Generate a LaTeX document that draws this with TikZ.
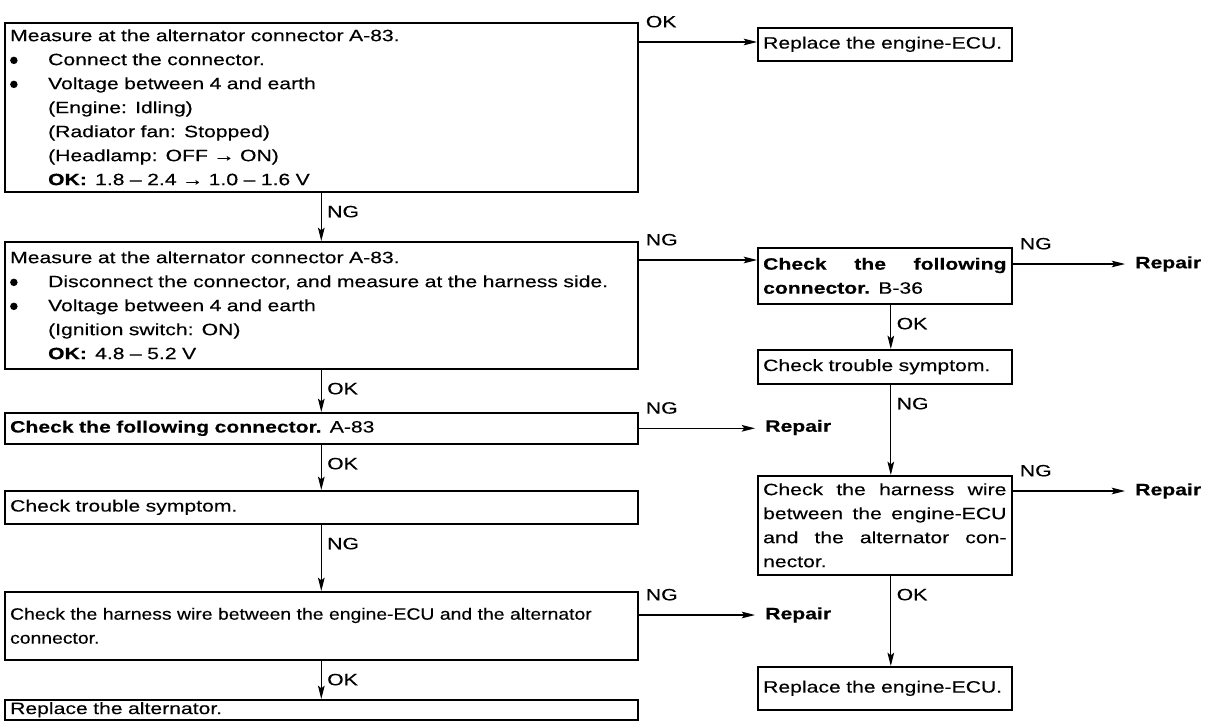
\documentclass[tikz,border=0pt]{standalone}
\usepackage{fontspec}
\setmainfont{Liberation Sans}[FakeStretch=1.29, FakeBold=0.3]
\newfontfamily\narrowfont{Liberation Sans}[FakeStretch=1.18, FakeBold=0.3]
\usetikzlibrary{arrows.meta,calc}

\newcommand{\mainsize}{\fontsize{12.3}{18}\selectfont}
\newcommand{\bul}{\makebox[28.5pt][l]{\tikz[baseline=-3.6pt]\fill (0,0) circle (2.8pt);}}
\newcommand{\ind}{\hspace*{28.5pt}}
\newcommand{\jline}[1]{{\spaceskip=.3333em plus 3em\xspaceskip=0pt\makebox[\hsize][s]{#1}}}

\tikzset{
  box/.style={draw, line width=1.2pt, anchor=north west, align=left,
    inner xsep=4pt, inner ysep=0pt, font=\mainsize},
  lbox/.style={box, text width=466.75pt},
  rbox/.style={box, text width=182.5pt},
  rep/.style={font=\mainsize\bfseries, anchor=west, inner xsep=7.5pt, inner ysep=0pt},
  hlbl/.style={font=\mainsize, inner sep=0pt, anchor=base west, xshift=5pt, yshift=11pt},
  vlbl/.style={font=\mainsize, inner sep=0pt, anchor=base west, xshift=4pt, yshift=-18.5pt},
  arr/.style={-{Stealth[length=10pt,width=5pt,inset=2pt]}, line width=0.9pt},
}

\begin{document}
\begin{tikzpicture}[x=0.75pt, y=-0.75pt]

  \useasboundingbox (0,0) rectangle (1217,721);

  % --- left column ---
  \node[lbox, minimum height=126.75pt] (meas1) at (4,22) {Measure at the alternator connector A-83.\\
    \bul Connect the connector.\\
    \bul Voltage between 4 and earth\\
    \ind (Engine: Idling)\\
    \ind (Radiator fan: Stopped)\\
    \ind (Headlamp: OFF → ON)\\
    \ind\textbf{OK:}\enspace 1.8 -- 2.4 → 1.0 -- 1.6 V};

  \node[lbox, minimum height=95.25pt] (meas2) at (4,241) {Measure at the alternator connector A-83.\\
    \bul Disconnect the connector, and measure at the harness side.\\
    \bul Voltage between 4 and earth\\
    \ind (Ignition switch: ON)\\
    \ind\textbf{OK:}\enspace 4.8 -- 5.2 V};

  \node[lbox, minimum height=23.25pt] (conA) at (4,412) {\textbf{Check the following connector.} A-83};
  \node[lbox, minimum height=24.75pt] (sym1) at (4,490) {Check trouble symptom.};
  \node[lbox, minimum height=51pt] (harn1) at (4,591) {\narrowfont Check the harness wire between the engine-ECU and the alternator\\connector.};
  \node[lbox, minimum height=15pt] (repalt) at (4,699) {Replace the alternator.};

  % --- right column ---
  \node[rbox, minimum height=24.75pt] (repecu1) at (757,27) {Replace the engine-ECU.};
  \node[rbox, minimum height=42pt] (conB) at (757,247) {\jline{\textbf{Check the following}}\\\textbf{connector.} B-36};
  \node[rbox, minimum height=25.5pt] (sym2) at (757,349) {Check trouble symptom.};
  \node[rbox, minimum height=74.25pt] (harn2) at (757,475) {\jline{Check the harness wire}\\
    \jline{between the engine-ECU}\\
    \jline{and the alternator con-}\\
    nector.};
  \node[rbox, minimum height=32.25pt] (repecu2) at (757,666) {Replace the engine-ECU.};

  % --- repair ends ---
  \node[rep] (rep1) at (1125,264) {Repair};
  \node[rep] (rep2) at (755,427.5) {Repair};
  \node[rep] (rep3) at (1125,491) {Repair};
  \node[rep] (rep4) at (755,615) {Repair};

  % --- horizontal connectors ---
  \coordinate (o1) at ($(meas1.north east)+(0,20)$);
  \coordinate (n2) at ($(meas2.north east)+(0,19)$);
  \coordinate (n3) at ($(conB.north east)+(0,17)$);
  \coordinate (n4) at ($(harn2.north east)+(0,16)$);
  \coordinate (n5) at ($(harn1.north east)+(0,24)$);

  \draw[arr] (o1) node[hlbl] {OK} -- (o1 -| repecu1.west);
  \draw[arr] (n2) node[hlbl] {NG} -- (n2 -| conB.west);
  \draw[arr] (n3) node[hlbl] {NG} -- (n3 -| rep1.west);
  \draw[arr] (conA.east) node[hlbl] {NG} -- (conA.east -| rep2.west);
  \draw[arr] (n4) node[hlbl] {NG} -- (n4 -| rep3.west);
  \draw[arr] (n5) node[hlbl] {NG} -- (n5 -| rep4.west);

  % --- vertical connectors ---
  \draw[arr] (meas1.south) node[vlbl] {NG} -- (meas2.north);
  \draw[arr] (meas2.south) node[vlbl] {OK} -- (conA.north);
  \draw[arr] (conA.south) node[vlbl] {OK} -- (sym1.north);
  \draw[arr] (sym1.south) node[vlbl] {NG} -- (harn1.north);
  \draw[arr] (harn1.south) node[vlbl] {OK} -- (repalt.north);

  \draw[arr] ([xshift=4.5pt]conB.south) node[vlbl] {OK} -- ([xshift=4.5pt]sym2.north);
  \draw[arr] ([xshift=4.5pt]sym2.south) node[vlbl] {NG} -- ([xshift=4.5pt]harn2.north);
  \draw[arr] ([xshift=4.5pt]harn2.south) node[vlbl] {OK} -- ([xshift=4.5pt]repecu2.north);

\end{tikzpicture}
\end{document}
